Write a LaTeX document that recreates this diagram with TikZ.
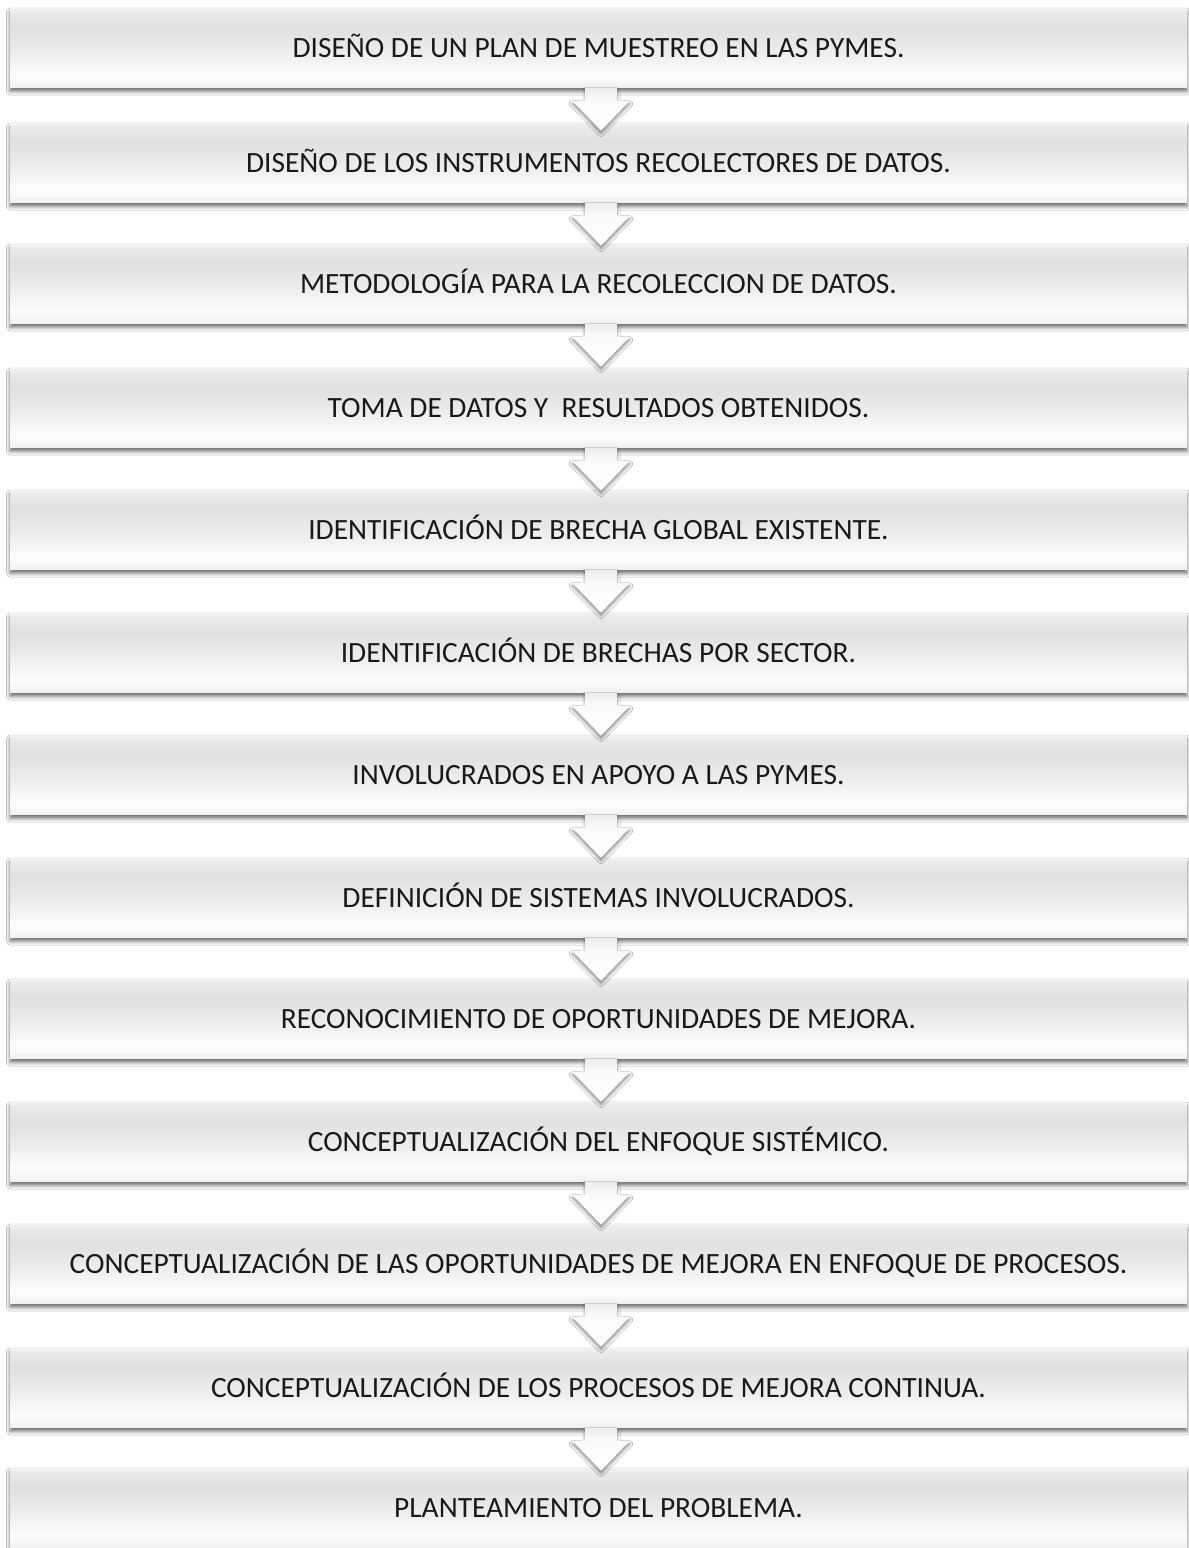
\documentclass[tikz,border=0pt]{standalone}
\usepackage{fontspec}
\setmainfont{Carlito}
\usetikzlibrary{shadows.blur}

% soft grey band shading of the step panels (bottom to top)
\pgfdeclareverticalshading{panelfill}{100bp}{%
  color(0bp)=(black!6); color(25bp)=(black!6);
  color(30bp)=(black!2); color(34bp)=(black!1);
  color(40bp)=(black!4); color(50bp)=(black!8);
  color(63bp)=(black!12); color(72bp)=(black!8);
  color(75bp)=(black!5); color(100bp)=(black!5)}

% light top-to-white shading of the arrows
\pgfdeclareverticalshading{chevronfill}{100bp}{%
  color(0bp)=(white); color(25bp)=(white);
  color(60bp)=(black!2); color(75bp)=(black!7); color(100bp)=(black!7)}

\begin{document}
\begin{tikzpicture}[x=1pt,y=-1pt,
  panel/.style={shading=panelfill, draw=none,
    minimum width=1177pt, minimum height=80pt, inner sep=0pt,
    text height=19pt, text depth=0pt,
    font=\fontsize{29.4}{33}\selectfont, text=black!90,
    blur shadow={shadow xshift=0pt, shadow yshift=-4pt,
      shadow blur radius=3.5pt, shadow opacity=55}},
  chevron/.style={shading=chevronfill, draw=none,
    blur shadow={shadow xshift=0pt, shadow yshift=-3pt,
      shadow blur radius=3pt, shadow opacity=45}}]

\clip (0,0) rectangle (1189,1548);
\fill[white] (0,0) rectangle (1189,1548);

% the thirteen steps, top edge / label
\foreach \t/\s [count=\i] in {
  7/{DISEÑO DE UN PLAN DE MUESTREO EN LAS PYMES.},
  122/{DISEÑO DE LOS INSTRUMENTOS RECOLECTORES DE DATOS.},
  243/{METODOLOGÍA PARA LA RECOLECCION DE DATOS.},
  367/{TOMA DE DATOS Y~ RESULTADOS OBTENIDOS.},
  489/{IDENTIFICACIÓN DE BRECHA GLOBAL EXISTENTE.},
  612/{IDENTIFICACIÓN DE BRECHAS POR SECTOR.},
  734/{INVOLUCRADOS EN APOYO A LAS PYMES.},
  857/{DEFINICIÓN DE SISTEMAS INVOLUCRADOS.},
  978/{RECONOCIMIENTO DE OPORTUNIDADES DE MEJORA.},
  1101/{CONCEPTUALIZACIÓN DEL ENFOQUE SISTÉMICO.},
  1223/{CONCEPTUALIZACIÓN DE LAS OPORTUNIDADES DE MEJORA EN ENFOQUE DE PROCESOS.},
  1347/{CONCEPTUALIZACIÓN DE LOS PROCESOS DE MEJORA CONTINUA.},
  1467/{PLANTEAMIENTO DEL PROBLEMA.}}
  \node[panel] (s\i) at (598.5,\t+40.5) {\s};

% down arrows from each step to the next
\foreach \i in {1,...,12}
  \path[chevron] (s\i.south) ++(-13.5,0) -- ++(0,13) -- ++(-13,0)
    -- ++(29,30) -- ++(29,-30) -- ++(-13,0) -- ++(0,-13) -- cycle;

\end{tikzpicture}
\end{document}
